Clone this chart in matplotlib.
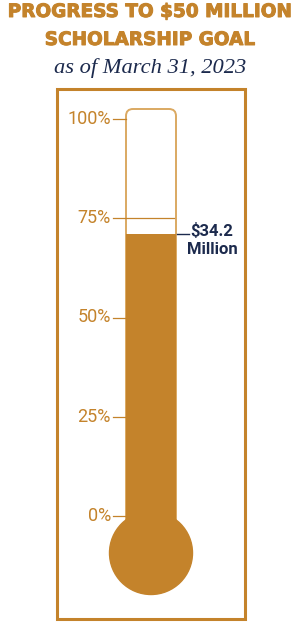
import matplotlib
matplotlib.use('agg')
import matplotlib.pyplot as plt
import matplotlib.transforms as mtransforms
import matplotlib.patheffects as pe
from matplotlib.patches import FancyBboxPatch, Ellipse, Rectangle

title_lines = ['PROGRESS TO $50 MILLION', 'SCHOLARSHIP GOAL']
date_label = 'as of March 31, 2023'
tick_values = [0, 25, 50, 75, 100]
tick_labels = ['0%', '25%', '50%', '75%', '100%']
raised_pct = 71  # fill level as drawn in the graphic
raised_label = '$34.2\nMillion'

GOLD = '#c4832b'
LIGHT = '#dba962'
NAVY = '#1c2a4d'

W, H = 301, 633
fig = plt.figure(figsize=(W / 100, H / 100), dpi=100)
ax = fig.add_axes([0, 0, 1, 1])

# y axis in percent of goal; 0% sits 516px from the top, 100% at 119px
y0_px, y100_px = 516, 119
ppu = (y0_px - y100_px) / 100.0


def py(px):
    return (y0_px - px) / ppu


ax.set_xlim(0, W)
ax.set_ylim(py(H), py(0))
ax.axis('off')

# frame
ax.add_patch(Rectangle((57, py(619)), 188, py(89) - py(619), fill=False,
                       ec=GOLD, lw=2.2))

cx = 151
bulb_y = py(553)

# tube
tube = FancyBboxPatch((126, bulb_y), 50, py(109) - bulb_y,
                      boxstyle='round,pad=0,rounding_size=7',
                      mutation_aspect=1 / ppu, fc='white', ec=LIGHT, lw=1.4,
                      zorder=1)
ax.add_patch(tube)

# fill
ax.bar(cx, raised_pct - bulb_y, bottom=bulb_y, width=50.5, color=GOLD,
       zorder=2)
ax.add_patch(Ellipse((cx, bulb_y), 83, 83 / ppu, color=GOLD, zorder=2))

# ticks
for v, lab in zip(tick_values, tick_labels):
    x_end = 174 if v > raised_pct else 126
    if v == 100:
        x_end = 126
    ax.plot([113, x_end], [v, v], color=GOLD, lw=0.9, zorder=3)
    ax.text(111, v, lab, ha='right', va='center', color=GOLD,
            fontsize=13, family='Roboto')

# callout
ax.plot([177, 189], [raised_pct, raised_pct], color=NAVY, lw=1, zorder=3)
off = mtransforms.offset_copy(ax.transData, fig=fig, x=0, y=-6, units='dots')
ax.text(212, raised_pct, raised_label, ha='center', va='center', color=NAVY,
        fontsize=12, fontweight='bold', family='Roboto', linespacing=1.2,
        transform=off)

# titles
heavy = [pe.withStroke(linewidth=0.7, foreground=GOLD)]
for i, line in enumerate(title_lines):
    fig.text(0.5, 1 - (12 + 28 * i) / H, line, ha='center', va='center',
             color=GOLD, fontsize=13.3, fontweight='bold',
             family='DejaVu Sans', path_effects=heavy)
fig.text(0.5, 1 - 68 / H, date_label, ha='center', va='center',
         color=NAVY, fontsize=16.2, style='italic', family='Liberation Serif')

fig.savefig('out.png', dpi=100)
